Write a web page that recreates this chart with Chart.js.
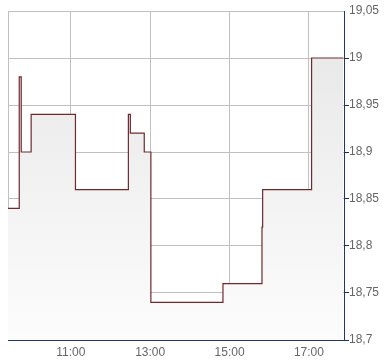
<!DOCTYPE html>
<html>
<head>
<meta charset="utf-8">
<script src="https://cdn.jsdelivr.net/npm/chart.js@4/dist/chart.umd.min.js"></script>
<style>
    body { margin: 0; background: #fff; }
    canvas { display: block; }
</style>
</head>
<body>
<canvas id="price_chart" width="390" height="364"></canvas>
<script>
/* global Chart */

// trade times and prices (step line)
const times = ["09:25", "09:42", "09:45", "10:00", "11:07", "12:27", "12:30", "12:51", "13:01", "14:50", "15:49", "15:50", "17:04", "17:52"];
const prices = [18.84, 18.98, 18.90, 18.94, 18.86, 18.94, 18.92, 18.90, 18.74, 18.76, 18.82, 18.86, 19.00, 19.00];

const hourTicks = ["11:00", "13:00", "15:00", "17:00"];
const axisStart = "09:25";
const axisEnd = "17:53";

const price_chart = document.getElementById("price_chart");

function toMinutes(s) {
    const parts = s.split(":");
    return Number(parts[0]) * 60 + Number(parts[1]);
}

function toClock(m) {
    const h = Math.floor(m / 60);
    const mm = String(Math.round(m % 60)).padStart(2, "0");
    return `${String(h).padStart(2, "0")}:${mm}`;
}

const points = times.map((t, i) => ({ x: toMinutes(t), y: prices[i] }));
const labelFont = { family: "Arial, 'Liberation Sans', sans-serif", size: 12 };

new Chart(price_chart, {
    type: "line",
    data: {
        datasets: [
            {
                data: points,
                stepped: true,
                borderColor: "#702a2e",
                borderWidth: 1.2,
                pointRadius: 0,
                fill: "start",
                backgroundColor: (ctx) => {
                    const area = ctx.chart.chartArea;
                    if (!area) return "#eeeeee";
                    const g = ctx.chart.ctx.createLinearGradient(0, area.top, 0, area.bottom);
                    g.addColorStop(0, "#e6e6e6");
                    g.addColorStop(1, "#fcfcfc");
                    return g;
                },
            },
        ],
    },
    options: {
        responsive: false,
        animation: false,
        layout: { padding: { left: 8, top: 11, right: 0, bottom: 0 } },
        plugins: { legend: { display: false }, tooltip: { enabled: false } },
        scales: {
            x: {
                type: "linear",
                min: toMinutes(axisStart),
                max: toMinutes(axisEnd),
                afterBuildTicks: (scale) => {
                    scale.ticks = [{ value: toMinutes(axisStart) }].concat(
                        hourTicks.map((t) => ({ value: toMinutes(t) }))
                    );
                },
                afterFit: (scale) => { scale.height = 24; },
                grid: { color: "#c0c0c0", drawTicks: false },
                border: { color: "#1f3866", width: 1 },
                ticks: {
                    padding: 5,
                    color: "#666666",
                    font: labelFont,
                    maxRotation: 0,
                    autoSkip: false,
                    callback: (v) => (v === toMinutes(axisStart) ? "" : toClock(v)),
                },
            },
            y: {
                position: "right",
                min: 18.7,
                max: 19.05,
                afterFit: (scale) => { scale.width = 46; },
                grid: {
                    color: "#c0c0c0",
                    tickColor: (ctx) => (ctx.tick && ctx.tick.value > 19.04 ? "rgba(0,0,0,0)" : "#1f2f4f"),
                    tickLength: 5,
                },
                border: { color: "#1f3866", width: 1 },
                ticks: {
                    stepSize: 0.05,
                    padding: 0,
                    color: "#666666",
                    font: labelFont,
                    callback: (v) => String(parseFloat(v.toFixed(2))).replace(".", ","),
                },
            },
        },
    },
});
</script>
</body>
</html>
